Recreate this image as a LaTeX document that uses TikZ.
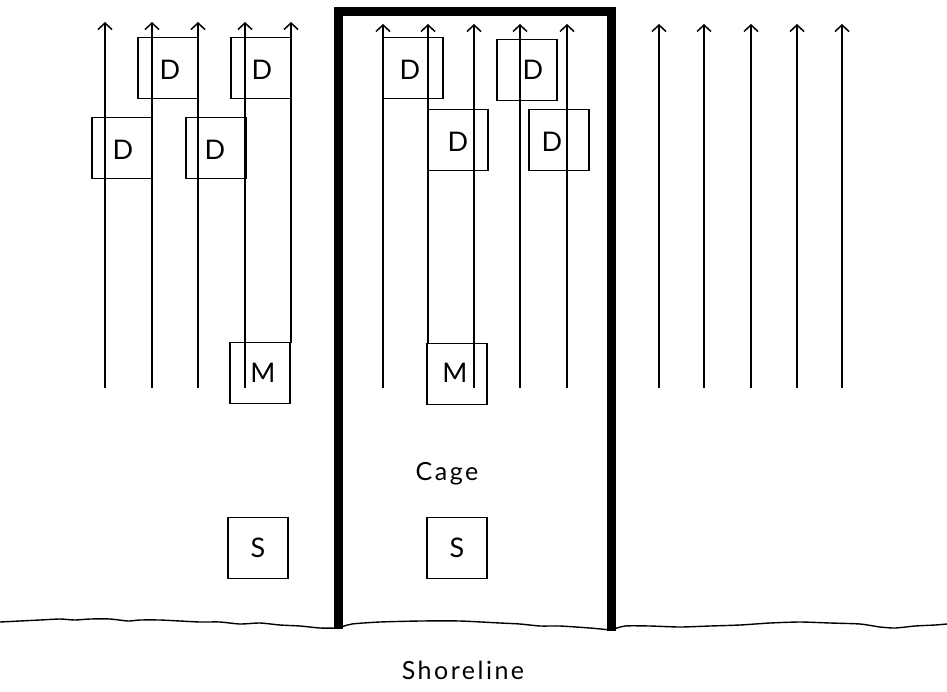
\documentclass[tikz,border=0pt]{standalone}
\usepackage{fontspec}
\setmainfont{Lato}
\usetikzlibrary{arrows.meta}
\begin{document}
\begin{tikzpicture}[x=1pt,y=-1pt,
  flow/.style={line width=1.4pt,-{Straight Barb[length=6.5pt,width=14pt,line width=1.5pt]}},
  box/.style={draw,line width=1.4pt,minimum width=60pt,minimum height=61pt,inner sep=0pt},
  lbl/.style={inner sep=0pt,font=\fontsize{27}{30}\selectfont},
  captxt/.style={inner sep=0pt,font=\fontsize{25}{28}\selectfont\addfontfeatures{LetterSpace=10}},
  cageline/.style={line width=9pt,line join=miter},
  shore/.style={line width=1.4pt,line join=round}]
\useasboundingbox (0,0) rectangle (947,691);
% ---- left group ----
\foreach \n/\x/\yb in {a1/105/388,a2/152/388,a3/198/388,a4/245/388,a5/291/343}{
  \coordinate (\n b) at (\x,\yb);
  \coordinate (\n t) at (\x,22);
  \draw[flow] (\n b) -- (\n t);
}
\node[box] (d1) at (168,68) {}; \node[lbl] (d1l) at (170,70) {D};
\node[box] (d2) at (261,68) {}; \node[lbl] (d2l) at (262,70) {D};
\node[box] (d3) at (122,148) {}; \node[lbl] (d3l) at (123,150) {D};
\node[box] (d4) at (216,148) {}; \node[lbl] (d4l) at (215,150) {D};
\node[box] (m1) at (260,373) {}; \node[lbl] (m1l) at (263,373) {M};
\node[box] (s1) at (258,548) {}; \node[lbl] (s1l) at (258,548) {S};
% ---- cage group ----
\foreach \n/\x/\yb in {b1/383/388,b2/428/343,b3/474/388,b4/520/388,b5/567/388}{
  \coordinate (\n b) at (\x,\yb);
  \coordinate (\n t) at (\x,24);
  \draw[flow] (\n b) -- (\n t);
}
\node[box] (d5) at (413,68) {}; \node[lbl] (d5l) at (410,70) {D};
\node[box] (d6) at (527,70) {}; \node[lbl] (d6l) at (533,70) {D};
\node[box] (d7) at (458,140) {}; \node[lbl] (d7l) at (458,142) {D};
\node[box] (d8) at (559,140) {}; \node[lbl] (d8l) at (552,142) {D};
\node[box] (m2) at (457,374) {}; \node[lbl] (m2l) at (455,373) {M};
\node[box] (s2) at (457,548) {}; \node[lbl] (s2l) at (457,548) {S};
% ---- right group ----
\foreach \n/\x in {c1/659,c2/704,c3/751,c4/797,c5/842}{
  \coordinate (\n b) at (\x,388);
  \coordinate (\n t) at (\x,24);
  \draw[flow] (\n b) -- (\n t);
}
% ---- cage ----
\coordinate (cl) at (338,629);
\coordinate (cr) at (611,631);
\draw[cageline] (cl) -- (338,11) -- (611,11) -- (cr);
\node[captxt] (cagelbl) at (447,474) {Cage};
% ---- shoreline ----
\draw[shore] plot[smooth,tension=0.4] coordinates {
 (0,622) (20,621) (40,620) (60,619) (75,620) (90,619) (110,619) (128,621) (140,620)
 (160,620) (180,621) (200,622) (220,622) (240,624) (260,623) (280,625) (300,626)
 (320,628) (338,628)}
 -- plot[smooth,tension=0.4] coordinates {(338,628) (352,624) (380,622) (420,621)
 (460,621) (500,623) (520,624) (540,626) (560,626) (590,628) (611,630)}
 -- plot[smooth,tension=0.4] coordinates {(611,630) (625,626) (650,626) (680,627)
 (710,626) (740,625) (770,623) (800,622) (830,623) (860,624) (880,627) (895,628)
 (915,626) (935,625) (947,624)};
\node[captxt] (shorelbl) at (463,670) {Shoreline};
\end{tikzpicture}
\end{document}
